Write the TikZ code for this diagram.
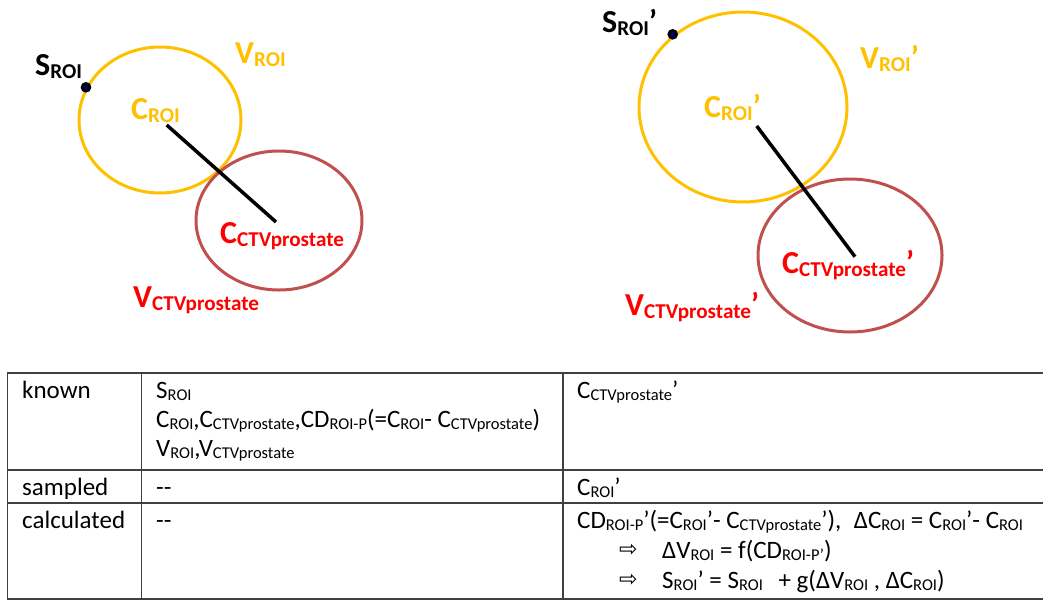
\documentclass[tikz,border=0pt]{standalone}
\usepackage{fontspec}
\usepackage{graphicx}
\setmainfont{Carlito}
\newfontfamily\arrowfont{DejaVu Sans}
\definecolor{roigold}{HTML}{FFC000}
\definecolor{ctvred}{HTML}{C0504D}
\definecolor{labred}{HTML}{FF0000}
\definecolor{rule}{HTML}{404040}
\newcommand\lo[1]{\raisebox{-0.1em}{\scalebox{0.66}{#1}}}

\tikzset{
  roi/.style={draw=roigold,line width=3pt},
  ctv/.style={draw=ctvred,line width=3pt},
  lbl/.style={font=\bfseries\fontsize{32}{32}\selectfont,inner sep=0pt,anchor=base west},
  cell/.style={font=\fontsize{25}{29}\selectfont,inner sep=0pt,anchor=base west},
  implies/.style={font=\arrowfont\fontsize{22}{22}\selectfont,inner sep=0pt,anchor=base west},
  grid/.style={draw=rule,line width=1.6pt}
}

\begin{document}
\begin{tikzpicture}[x=1pt,y=-1pt]
\useasboundingbox (0,0) rectangle (1043,600);
% before
\draw[roi] (160,120) ellipse [x radius=81,y radius=73];
\draw[ctv] (279,220.5) ellipse [x radius=83,y radius=69.5];
\coordinate (croi) at (166.7,125);
\coordinate (cctv) at (276,222);
\draw[line width=3.5pt] (croi) -- (cctv);
\draw[line width=2.5pt,fill=blue!40!black] (86,87.3) circle (4);
\node[lbl] (sroi) at (35,75) {S\lo{ROI}};
\node[lbl,roigold] (vroi) at (235,63) {V\lo{ROI}};
\node[lbl,roigold] (croilab) at (131,119) {C\lo{ROI}};
\node[lbl,labred] (cctvlab) at (220,243) {C\lo{CTVprostate}};
\node[lbl,labred] (vctv) at (133,307) {V\lo{CTVprostate}};
% after
\draw[roi] (743,107) ellipse [x radius=104,y radius=95];
\draw[ctv] (850,255.5) ellipse [x radius=92,y radius=76.5];
\coordinate (croiB) at (756.7,126);
\coordinate (cctvB) at (855,256.7);
\draw[line width=3.5pt] (croiB) -- (cctvB);
\draw[line width=2.5pt,fill=blue!40!black] (672.7,34.3) circle (4);
\node[lbl] (sroiB) at (602,32) {S\lo{ROI}’};
\node[lbl,roigold] (vroiB) at (860,68) {V\lo{ROI}’};
\node[lbl,roigold] (croilabB) at (704,117) {C\lo{ROI}’};
\node[lbl,labred] (cctvlabB) at (782,273) {C\lo{CTVprostate}’};
\node[lbl,labred] (vctvB) at (625,315) {V\lo{CTVprostate}’};
% table
\draw[grid] (1050,373) -- (7.5,373) -- (7.5,599) -- (1050,599);
\draw[grid] (7.5,470) -- (1050,470);
\draw[grid] (7.5,503) -- (1050,503);
\draw[grid] (141.5,373) -- (141.5,599);
\draw[grid] (563,373) -- (563,599);
\node[cell] (known) at (22,398) {known};
\node[cell] (kA) at (156,398) {S\lo{ROI}};
\node[cell] (kB) at (156,427) {C\lo{ROI},C\lo{CTVprostate},CD\lo{ROI-P}(=C\lo{ROI}- C\lo{CTVprostate})};
\node[cell] (kC) at (156,456) {V\lo{ROI},V\lo{CTVprostate}};
\node[cell] (kD) at (577,398) {C\lo{CTVprostate}’};
\node[cell] (sampled) at (22,495) {sampled};
\node[cell] (sA) at (156,495) {-{}-};
\node[cell] (sB) at (577,495) {C\lo{ROI}’};
\node[cell] (calc) at (22,528) {calculated};
\node[cell] (cA) at (156,528) {-{}-};
\node[cell] (cB) at (577,528) {CD\lo{ROI-P}’(=C\lo{ROI}’- C\lo{CTVprostate}’),\hspace{0.5em}ΔC\lo{ROI} = C\lo{ROI}’- C\lo{ROI}};
\node[implies] (arrA) at (619,556) {⇨};
\node[cell] (cC) at (662,558) {ΔV\lo{ROI} = f(CD\lo{ROI-P’})};
\node[implies] (arrB) at (619,586) {⇨};
\node[cell] (cD) at (662,588) {S\lo{ROI}’ = S\lo{ROI}\hspace{0.4em} + g(ΔV\lo{ROI} , ΔC\lo{ROI})};
\end{tikzpicture}
\end{document}
